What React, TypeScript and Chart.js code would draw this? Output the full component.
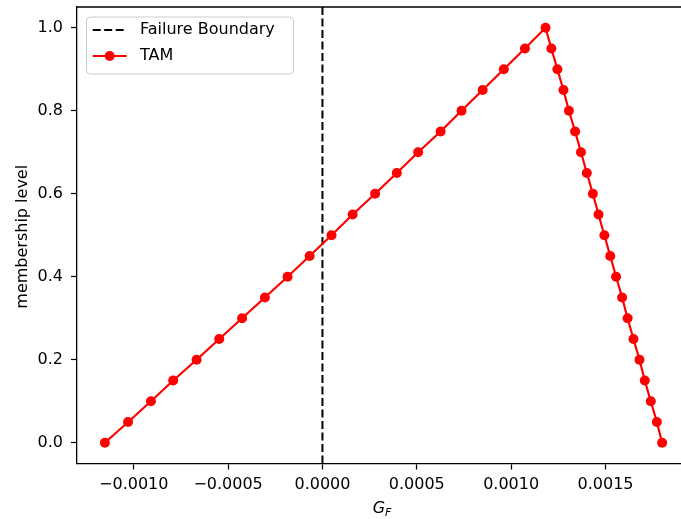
import { useEffect, useRef } from 'react';
import { Chart, registerables } from 'chart.js';

Chart.register(...registerables);

const FONT = '"DejaVu Sans", "Liberation Sans", sans-serif';

// TAM membership function (alpha-cut points)
const tamX = [
  -0.001153, -0.00103, -0.000909, -0.000791, -0.000667, -0.000547, -0.000426,
  -0.000305, -0.000185, -0.000068, 0.000048, 0.00016, 0.000279, 0.000394,
  0.000507, 0.000626, 0.000737, 0.000849, 0.000961, 0.001073, 0.001182,
  0.001213, 0.001245, 0.001277, 0.001306, 0.001339, 0.00137, 0.001401,
  0.001433, 0.001463, 0.001494, 0.001525, 0.001556, 0.001588, 0.001617,
  0.001648, 0.00168, 0.001708, 0.00174, 0.001772, 0.0018,
];
const tamY = [
  0.0, 0.05, 0.1, 0.15, 0.2, 0.25, 0.3, 0.35, 0.4, 0.45, 0.5, 0.55, 0.6, 0.65,
  0.7, 0.75, 0.8, 0.85, 0.9, 0.95, 1.0,
  0.95, 0.9, 0.85, 0.8, 0.75, 0.7, 0.65, 0.6, 0.55, 0.5, 0.45, 0.4, 0.35, 0.3,
  0.25, 0.2, 0.15, 0.1, 0.05, 0.0,
];

// Failure boundary (vertical line at G_F = 0)
const boundaryX = [0, 0];
const boundaryY = [-0.05, 1.05];

const xTickValues = [-0.001, -0.0005, 0, 0.0005, 0.001, 0.0015];
const yTickValues = [0, 0.2, 0.4, 0.6, 0.8, 1.0];

const xMin = -0.0013007;
const xMax = 0.0019477;
const yMin = -0.05;
const yMax = 1.05;

const legendLabels = ['Failure Boundary', 'TAM'];

const fmtX = (v: number) => {
  const s = Math.abs(v).toFixed(4);
  return v < -1e-12 ? '\u2212' + s : s;
};

const overlayPlugin = {
  id: 'overlay',
  afterDraw(chart: any) {
    const { ctx, chartArea } = chart;
    const { left, right, top, bottom } = chartArea;
    ctx.save();
    // top spine
    ctx.strokeStyle = '#000';
    ctx.lineWidth = 1.3;
    ctx.beginPath();
    ctx.moveTo(left, top);
    ctx.lineTo(right, top);
    ctx.stroke();

    // y axis title
    ctx.fillStyle = '#000';
    ctx.font = `16px ${FONT}`;
    ctx.save();
    ctx.translate(26.7, (top + bottom) / 2 + 1.5);
    ctx.rotate(-Math.PI / 2);
    ctx.textAlign = 'center';
    ctx.textBaseline = 'alphabetic';
    ctx.fillText('membership level', 0, 0);
    ctx.restore();

    // x axis title: G_F
    const cx = (left + right) / 2 - 1.5;
    ctx.textAlign = 'left';
    ctx.textBaseline = 'alphabetic';
    ctx.font = `italic 16px ${FONT}`;
    const wG = ctx.measureText('G').width;
    ctx.font = `italic 11px ${FONT}`;
    const wF = ctx.measureText('F').width;
    const sx = cx - (wG + wF) / 2;
    ctx.font = `italic 16px ${FONT}`;
    ctx.fillText('G', sx, 513);
    ctx.font = `italic 11px ${FONT}`;
    ctx.fillText('F', sx + wG, 515.5);

    // legend
    const bx = 86, by = 16.5, bw = 207, bh = 57;
    ctx.fillStyle = 'rgba(255,255,255,0.8)';
    ctx.strokeStyle = '#cccccc';
    ctx.lineWidth = 1;
    ctx.beginPath();
    (ctx as any).roundRect(bx + 0.5, by + 0.5, bw, bh, 4);
    ctx.fill();
    ctx.stroke();

    const hx0 = 92.7, hx1 = 126.7, tx = 140;
    const rows = [30, 56];
    // Failure Boundary handle
    ctx.strokeStyle = '#000';
    ctx.lineWidth = 2;
    ctx.setLineDash([8, 3.5]);
    ctx.beginPath();
    ctx.moveTo(hx0, rows[0]);
    ctx.lineTo(hx1, rows[0]);
    ctx.stroke();
    ctx.setLineDash([]);
    // TAM handle
    ctx.strokeStyle = '#ff0000';
    ctx.lineWidth = 2.2;
    ctx.beginPath();
    ctx.moveTo(hx0, rows[1]);
    ctx.lineTo(hx1, rows[1]);
    ctx.stroke();
    ctx.fillStyle = '#ff0000';
    ctx.beginPath();
    ctx.arc((hx0 + hx1) / 2, rows[1], 5, 0, Math.PI * 2);
    ctx.fill();

    ctx.fillStyle = '#000';
    ctx.font = `16px ${FONT}`;
    ctx.textBaseline = 'middle';
    ctx.fillText(legendLabels[0], tx, rows[0]);
    ctx.fillText(legendLabels[1], tx, rows[1]);
    ctx.restore();
  },
};

export default function App() {
  const ref = useRef<HTMLCanvasElement>(null);
  useEffect(() => {
    const chart = new Chart(ref.current as HTMLCanvasElement, {
      type: 'scatter',
      data: {
        datasets: [
          {
            label: legendLabels[1],
            data: tamX.map((x, i) => ({ x, y: tamY[i] })),
            showLine: true,
            borderColor: '#ff0000',
            backgroundColor: '#ff0000',
            borderWidth: 2.2,
            pointRadius: 5,
            pointHoverRadius: 5,
            pointBorderWidth: 0,
            order: 0,
          },
          {
            label: legendLabels[0],
            data: boundaryX.map((x, i) => ({ x, y: boundaryY[i] })),
            showLine: true,
            borderColor: '#000000',
            backgroundColor: '#000000',
            borderWidth: 2,
            borderDash: [8, 3.5],
            pointRadius: 0,
            pointHoverRadius: 0,
            order: 1,
          },
        ],
      },
      options: {
        responsive: false,
        animation: false,
        devicePixelRatio: 1,
        events: [],
        layout: { padding: { top: 7, right: 10, left: 0, bottom: 0 } },
        plugins: { legend: { display: false }, tooltip: { enabled: false } },
        scales: {
          x: {
            type: 'linear',
            min: xMin,
            max: xMax,
            afterBuildTicks: (s: any) => {
              s.ticks = xTickValues.map((v) => ({ value: v }));
            },
            afterFit: (s: any) => {
              s.height = 55.5;
              s.paddingLeft = 0;
              s.paddingRight = 0;
            },
            ticks: {
              callback: (v: any) => fmtX(Number(v)),
              color: '#000',
              font: { family: FONT, size: 16 },
              padding: 5.5,
              maxRotation: 0,
              autoSkip: false,
            },
            grid: {
              display: true,
              drawOnChartArea: false,
              drawTicks: true,
              tickLength: 6,
              tickWidth: 1.2,
              color: '#000',
            },
            border: { display: true, color: '#000', width: 1.3 },
          },
          y: {
            type: 'linear',
            min: yMin,
            max: yMax,
            afterBuildTicks: (s: any) => {
              s.ticks = yTickValues.map((v) => ({ value: v }));
            },
            afterFit: (s: any) => {
              s.width = 77;
              s.paddingTop = 0;
              s.paddingBottom = 0;
            },
            ticks: {
              callback: (v: any) => Number(v).toFixed(1),
              color: '#000',
              font: { family: FONT, size: 16 },
              padding: 8,
              autoSkip: false,
            },
            grid: {
              display: true,
              drawOnChartArea: false,
              drawTicks: true,
              tickLength: 6,
              tickWidth: 1.2,
              color: '#000',
            },
            border: { display: true, color: '#000', width: 1.3 },
          },
        },
      },
      plugins: [overlayPlugin],
    });
    return () => chart.destroy();
  }, []);
  return (
    <div
      style={{
        position: 'fixed',
        left: 0,
        top: 0,
        width: 681,
        height: 519,
        overflow: 'hidden',
        background: '#fff',
      }}
    >
      <canvas ref={ref} width={700} height={519} style={{ display: 'block' }} />
    </div>
  );
}
